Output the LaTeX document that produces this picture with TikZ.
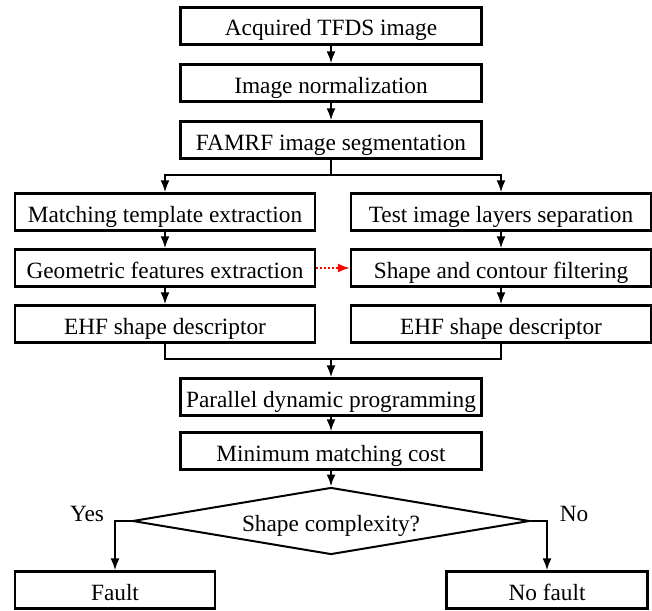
\documentclass[tikz,border=0pt]{standalone}
\usepackage{fontspec}
\setmainfont{Liberation Serif}
\usetikzlibrary{arrows.meta,shapes.geometric}
\tikzset{
  stepbox/.style={draw, line width=2.2pt, minimum height=37pt, inner sep=0pt, text height=20pt, text depth=0pt, font=\fontsize{23.3}{27}\selectfont},
  midbox/.style={stepbox, minimum width=301pt},
  sidebox/.style={stepbox, minimum width=300pt},
  endbox/.style={stepbox, minimum width=200pt},
  flow/.style={line width=2.2pt, -{Latex[length=12pt,width=9pt]}},
  plain/.style={line width=2.2pt},
  hint/.style={red, line width=2pt, dotted, -{Latex[length=12pt,width=9pt]}},
  lbl/.style={font=\fontsize{23.3}{27}\selectfont}
}
\begin{document}
\begin{tikzpicture}[x=1pt, y=-1pt]
  \useasboundingbox (0,0) rectangle (652,610);

  \node[midbox] (acq) at (331, 26) {Acquired TFDS image};
  \node[midbox] (norm) at (331, 83) {Image normalization};
  \node[midbox] (seg) at (331, 140) {FAMRF image segmentation};

  \node[sidebox] (tmpl) at (165, 212) {Matching template extraction};
  \node[sidebox] (geom) at (165, 268) {Geometric features extraction};
  \node[sidebox] (ehfl) at (165, 324) {EHF shape descriptor};

  \node[sidebox] (layers) at (501, 212) {Test image layers separation};
  \node[sidebox] (filt) at (501, 268) {Shape and contour filtering};
  \node[sidebox] (ehfr) at (501, 324) {EHF shape descriptor};

  \node[midbox] (pdp) at (331, 397) {Parallel dynamic programming};
  \node[midbox] (mmc) at (331, 451) {Minimum matching cost};

  \node[diamond, draw, line width=2pt, aspect=6, inner sep=0pt, minimum width=397pt, minimum height=67pt, text height=20pt, text depth=0pt, lbl] (cplx) at (331, 521) {Shape complexity?};

  \node[endbox] (fault) at (115, 590) {Fault};
  \node[endbox, minimum width=201pt] (nofault) at (547, 590) {No fault};

  \node[lbl] (yes) at (87, 514) {Yes};
  \node[lbl] (no) at (574, 514) {No};

  \coordinate (br) at (331, 175);
  \coordinate (mg) at (331, 359);

  \draw[flow] (acq) -- (norm);
  \draw[flow] (norm) -- (seg);
  \draw[plain] (seg) -- (br);
  \draw[flow] (br) -| (tmpl);
  \draw[flow] (br) -| (layers);

  \draw[flow] (tmpl) -- (geom);
  \draw[flow] (geom) -- (ehfl);
  \draw[flow] (layers) -- (filt);
  \draw[flow] (filt) -- (ehfr);
  \draw[hint] (geom) -- (filt);

  \draw[plain] (ehfl) |- (mg);
  \draw[plain] (ehfr) |- (mg);
  \draw[flow] (mg) -- (pdp);

  \draw[flow] (pdp) -- (mmc);
  \draw[flow] (mmc) -- (cplx);
  \draw[flow] (cplx.west) -| (fault);
  \draw[flow] (cplx.east) -| (nofault);
\end{tikzpicture}
\end{document}
